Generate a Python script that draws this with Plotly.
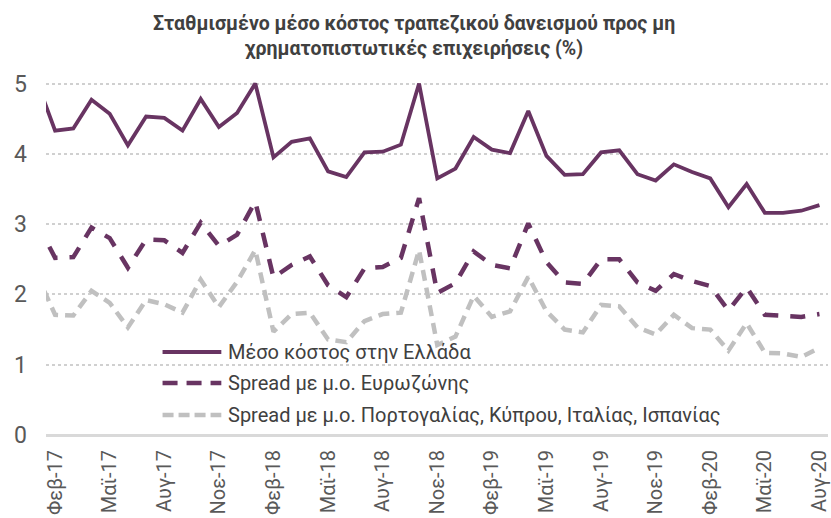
import plotly.graph_objects as go

# Monthly categories (Jan-17 .. Aug-20)
months = [
    "Ιαν-17", "Φεβ-17", "Μαρ-17", "Απρ-17", "Μαϊ-17", "Ιουν-17", "Ιουλ-17", "Αυγ-17",
    "Σεπ-17", "Οκτ-17", "Νοε-17", "Δεκ-17", "Ιαν-18", "Φεβ-18", "Μαρ-18", "Απρ-18",
    "Μαϊ-18", "Ιουν-18", "Ιουλ-18", "Αυγ-18", "Σεπ-18", "Οκτ-18", "Νοε-18", "Δεκ-18",
    "Ιαν-19", "Φεβ-19", "Μαρ-19", "Απρ-19", "Μαϊ-19", "Ιουν-19", "Ιουλ-19", "Αυγ-19",
    "Σεπ-19", "Οκτ-19", "Νοε-19", "Δεκ-19", "Ιαν-20", "Φεβ-20", "Μαρ-20", "Απρ-20",
    "Μαϊ-20", "Ιουν-20", "Ιουλ-20", "Αυγ-20",
]

# Labelled months on the horizontal axis
tick_labels = [
    "Φεβ-17", "Μαϊ-17", "Αυγ-17", "Νοε-17", "Φεβ-18", "Μαϊ-18", "Αυγ-18", "Νοε-18",
    "Φεβ-19", "Μαϊ-19", "Αυγ-19", "Νοε-19", "Φεβ-20", "Μαϊ-20", "Αυγ-20",
]

# Weighted average cost of bank lending in Greece (%)
avg_cost_greece = [
    5.03, 4.33, 4.36, 4.77, 4.57, 4.12, 4.53, 4.51, 4.33, 4.78, 4.38, 4.58,
    5.00, 3.95, 4.17, 4.22, 3.75, 3.67, 4.02, 4.03, 4.13, 5.00, 3.65, 3.79,
    4.24, 4.06, 4.01, 4.61, 3.97, 3.70, 3.71, 4.02, 4.05, 3.71, 3.62, 3.85,
    3.74, 3.65, 3.24, 3.57, 3.16, 3.16, 3.19, 3.27,
]

# Spread vs euro area average (pp)
spread_euro_area = [
    3.02, 2.52, 2.53, 2.95, 2.80, 2.38, 2.78, 2.77, 2.59, 3.02, 2.69, 2.85,
    3.32, 2.24, 2.42, 2.54, 2.13, 1.96, 2.37, 2.39, 2.52, 3.37, 2.02, 2.16,
    2.61, 2.42, 2.37, 3.01, 2.46, 2.17, 2.15, 2.50, 2.50, 2.17, 2.05, 2.29,
    2.19, 2.12, 1.77, 2.10, 1.71, 1.69, 1.68, 1.72,
]

# Spread vs average of Portugal, Cyprus, Italy, Spain (pp)
spread_south = [
    2.28, 1.71, 1.70, 2.05, 1.88, 1.53, 1.92, 1.86, 1.74, 2.21, 1.82, 2.18,
    2.63, 1.47, 1.72, 1.74, 1.36, 1.32, 1.62, 1.72, 1.74, 2.63, 1.28, 1.40,
    1.98, 1.68, 1.76, 2.25, 1.76, 1.50, 1.46, 1.85, 1.83, 1.53, 1.43, 1.71,
    1.52, 1.50, 1.20, 1.59, 1.17, 1.16, 1.11, 1.24,
]

series_names = [
    "Μέσο κόστος στην Ελλάδα",
    "Spread με μ.ο. Ευρωζώνης",
    "Spread με μ.ο. Πορτογαλίας, Κύπρου, Ιταλίας, Ισπανίας",
]

title_text = "<b>Σταθμισμένο μέσο κόστος τραπεζικού δανεισμού προς μη<br>χρηματοπιστωτικές επιχειρήσεις (%)</b>"

PURPLE = "#683462"
GREY = "#c0c0c0"
TEXT = "#404040"
AXIS_TEXT = "#595959"
FONT = "Roboto, Liberation Sans, sans-serif"

fig = go.Figure()
fig.add_trace(go.Scatter(x=months, y=spread_south, mode="lines", name=series_names[2],
                         line=dict(color=GREY, width=4.5, dash="11px,7px")))
fig.add_trace(go.Scatter(x=months, y=spread_euro_area, mode="lines", name=series_names[1],
                         line=dict(color=PURPLE, width=4.5, dash="15px,12px")))
fig.add_trace(go.Scatter(x=months, y=avg_cost_greece, mode="lines", name=series_names[0],
                         line=dict(color=PURPLE, width=3.8)))

# Plot-area geometry in pixels (used to place the legend block and title)
W, H = 831, 518
L, R, T, B = 46, 0, 80, 83
pw, ph = W - L - R, H - T - B


def px_x(x):
    return (x - L) / pw


def px_y(y):
    return (H - B - y) / ph


legend_rows = [
    (352, series_names[0], dict(color=PURPLE, width=4, dash="solid")),
    (383, series_names[1], dict(color=PURPLE, width=4.5, dash="15px,9px")),
    (415, series_names[2], dict(color=GREY, width=4.5, dash="11px,5px")),
]
shapes = []
annotations = []
for yy, label, ln in legend_rows:
    shapes.append(dict(type="line", xref="paper", yref="paper",
                       x0=px_x(163), x1=px_x(222), y0=px_y(yy), y1=px_y(yy), line=ln))
    annotations.append(dict(xref="paper", yref="paper", x=px_x(227), y=px_y(yy),
                            xanchor="left", yanchor="middle", showarrow=False,
                            text=label, font=dict(family=FONT, size=20, color=TEXT)))

annotations.append(dict(xref="paper", yref="paper", x=px_x(415), y=px_y(36),
                        xanchor="center", yanchor="middle", showarrow=False,
                        text=title_text, align="center",
                        font=dict(family=FONT, size=19.5, color=TEXT)))

fig.update_layout(
    width=W, height=H,
    margin=dict(l=L, r=R, t=T, b=B),
    paper_bgcolor="white", plot_bgcolor="white",
    showlegend=False,
    font=dict(family=FONT, color=TEXT),
    shapes=shapes,
    annotations=annotations,
)

fig.update_xaxes(
    type="category",
    range=[0.5, 43.47],
    tickmode="array", tickvals=tick_labels, ticktext=tick_labels,
    tickangle=-90,
    tickfont=dict(family=FONT, size=20, color=AXIS_TEXT),
    showgrid=False, zeroline=False, showline=False,
    ticks="", ticklabelstandoff=10,
)

fig.update_yaxes(
    range=[0, 5.05],
    tickvals=[0, 1, 2, 3, 4, 5],
    tickfont=dict(family=FONT, size=23, color=AXIS_TEXT),
    showgrid=True, gridcolor="#d0d0d0", gridwidth=1.5, griddash="dot",
    zeroline=True, zerolinecolor="#d9d9d9", zerolinewidth=2.5,
    showline=False, ticks="", ticklabelstandoff=18,
)

fig.write_html("out.html")
